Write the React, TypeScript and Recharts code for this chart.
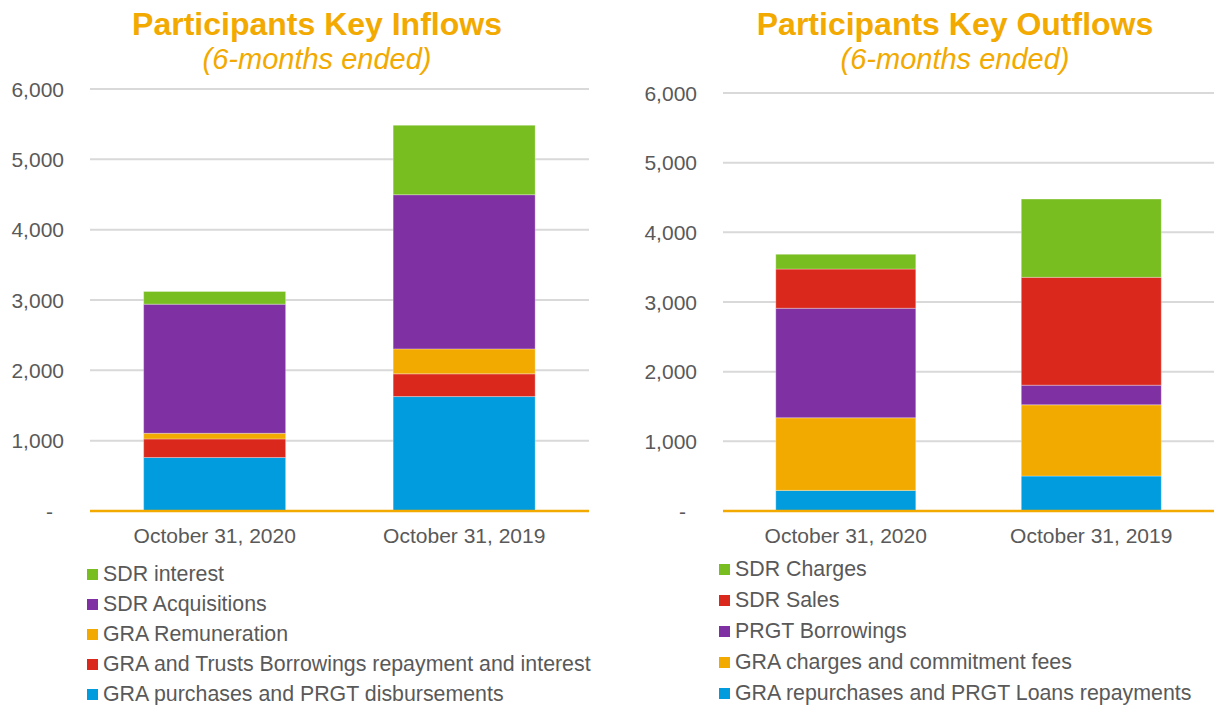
import React from "react";
import { BarChart, Bar, XAxis, YAxis, CartesianGrid } from "recharts";

const categories = ["October 31, 2020", "October 31, 2019"];
const yTicks = [0, 1000, 2000, 3000, 4000, 5000, 6000];

// Inflows (bottom to top)
const inGraPurchases = [760, 1627];
const inGraTrusts = [265, 323];
const inGraRemuneration = [80, 355];
const inSdrAcquisitions = [1836, 2192];
const inSdrInterest = [180, 987];

// Outflows (bottom to top)
const outGraRepurchases = [296, 502];
const outGraCharges = [1042, 1022];
const outPrgtBorrowings = [1572, 282];
const outSdrSales = [563, 1548];
const outSdrCharges = [211, 1123];

const BLUE = "#009CDE";
const RED = "#DA291C";
const ORANGE = "#F2A900";
const PURPLE = "#7F30A3";
const GREEN = "#78BE20";
const FONT = "'Liberation Sans', Arial, sans-serif";
const TEXT = "#595959";

const inflowSeries = [
  { key: "a", name: "GRA purchases and PRGT disbursements", color: BLUE, values: inGraPurchases },
  { key: "b", name: "GRA and Trusts Borrowings repayment and interest", color: RED, values: inGraTrusts },
  { key: "c", name: "GRA Remuneration", color: ORANGE, values: inGraRemuneration },
  { key: "d", name: "SDR Acquisitions", color: PURPLE, values: inSdrAcquisitions },
  { key: "e", name: "SDR interest", color: GREEN, values: inSdrInterest },
];

const outflowSeries = [
  { key: "a", name: "GRA repurchases and PRGT Loans repayments", color: BLUE, values: outGraRepurchases },
  { key: "b", name: "GRA charges and commitment fees", color: ORANGE, values: outGraCharges },
  { key: "c", name: "PRGT Borrowings", color: PURPLE, values: outPrgtBorrowings },
  { key: "d", name: "SDR Sales", color: RED, values: outSdrSales },
  { key: "e", name: "SDR Charges", color: GREEN, values: outSdrCharges },
];

function buildData(series: typeof inflowSeries) {
  return categories.map((c, i) => {
    const row: any = { category: c };
    series.forEach((s) => (row[s.key] = s.values[i]));
    return row;
  });
}

const YTick = (props: any) => {
  const { x, y, payload } = props;
  const v = payload.value;
  return (
    <text x={v === 0 ? x - 11 : x} y={y} dy="0.36em" textAnchor="end" fill={TEXT} fontSize={21} fontFamily={FONT}>
      {v === 0 ? "-" : v.toLocaleString("en-US")}
    </text>
  );
};

function Panel(props: {
  left: number;
  width: number;
  yAxisWidth: number;
  top: number;
  marginRight: number;
  series: typeof inflowSeries;
  title: string;
  titleCenter: number;
  legendLeft: number;
  legendTop: number;
  legendStep: number;
}) {
  const data = buildData(props.series);
  return (
    <>
      <div
        style={{
          position: "absolute",
          left: props.titleCenter - 300,
          width: 600,
          top: 5,
          textAlign: "center",
          color: ORANGE,
          fontFamily: FONT,
          fontWeight: "bold",
          fontSize: 32,
          lineHeight: "38px",
        }}
      >
        {props.title}
      </div>
      <div
        style={{
          position: "absolute",
          left: props.titleCenter - 300,
          width: 600,
          top: 41,
          textAlign: "center",
          color: ORANGE,
          fontFamily: FONT,
          fontStyle: "italic",
          fontSize: 29,
          lineHeight: "36px",
        }}
      >
        (6-months ended)
      </div>
      <div style={{ position: "absolute", left: props.left, top: 0 }}>
        <BarChart
          width={props.width}
          height={560}
          data={data}
          margin={{ top: props.top, right: props.marginRight, bottom: 0, left: 0 }}
          barCategoryGap="21.5%"
        >
          <CartesianGrid vertical={false} stroke="#D9D9D9" strokeWidth={2} />
          <XAxis
            dataKey="category"
            height={49}
            tickLine={false}
            tickSize={0}
            tickMargin={17}
            axisLine={{ stroke: ORANGE, strokeWidth: 2.5 }}
            tick={{ fill: TEXT, fontSize: 21, fontFamily: FONT }}
          />
          <YAxis
            width={props.yAxisWidth}
            domain={[0, 6000]}
            ticks={yTicks}
            interval={0}
            axisLine={false}
            tickLine={false}
            tickSize={0}
            tickMargin={26}
            tick={<YTick />}
          />
          {props.series.map((s) => (
            <Bar
              key={s.key}
              dataKey={s.key}
              name={s.name}
              stackId="s"
              fill={s.color}
              stroke="#FFFFFF"
              strokeOpacity={0.3}
              strokeWidth={1}
              isAnimationActive={false}
            />
          ))}
        </BarChart>
      </div>
      <div style={{ position: "absolute", left: props.legendLeft, top: props.legendTop }}>
        {[...props.series].reverse().map((s, i) => (
          <div
            key={s.key}
            style={{
              position: "absolute",
              left: 0,
              top: i * props.legendStep,
              height: 24,
              display: "flex",
              alignItems: "center",
              whiteSpace: "nowrap",
              fontFamily: FONT,
              fontSize: 21.35,
              color: TEXT,
            }}
          >
            <span style={{ display: "inline-block", width: 11, height: 11, background: s.color, marginRight: 5 }} />
            <span>{s.name}</span>
          </div>
        ))}
      </div>
    </>
  );
}

export default function App() {
  return (
    <div
      style={{
        position: "absolute",
        left: 0,
        top: 0,
        width: 1217,
        height: 705,
        background: "#FFFFFF",
        overflow: "hidden",
      }}
    >
      <Panel
        left={0}
        width={601}
        yAxisWidth={90}
        top={89}
        marginRight={12}
        series={inflowSeries}
        title="Participants Key Inflows"
        titleCenter={317}
        legendLeft={87}
        legendTop={562}
        legendStep={30}
      />
      <Panel
        left={610}
        width={607}
        yAxisWidth={113}
        top={93}
        marginRight={3}
        series={outflowSeries}
        title="Participants Key Outflows"
        titleCenter={955}
        legendLeft={719}
        legendTop={557}
        legendStep={31}
      />
    </div>
  );
}
